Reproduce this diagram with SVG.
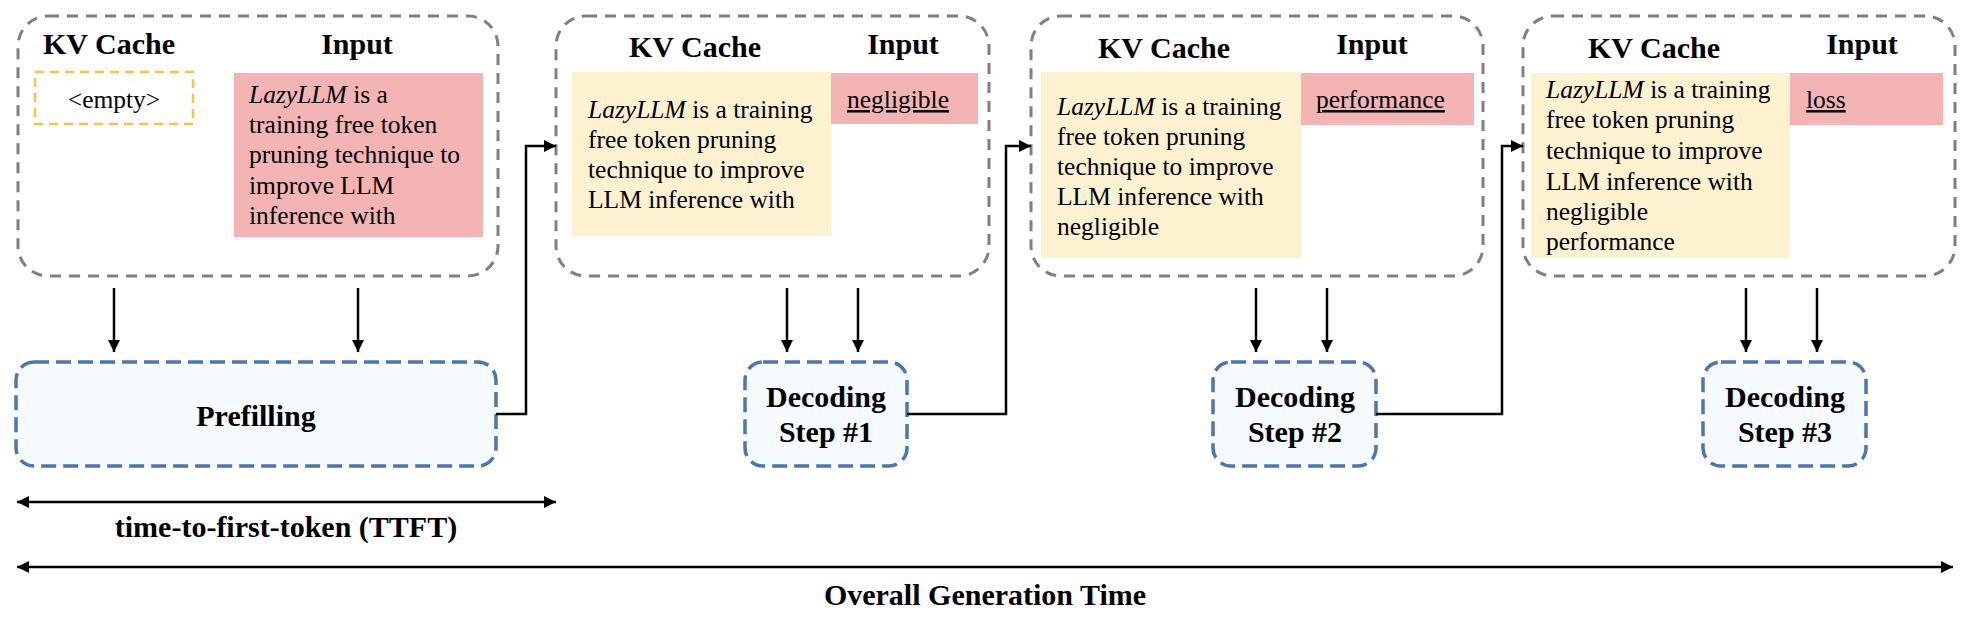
<svg xmlns="http://www.w3.org/2000/svg" width="1970" height="620" viewBox="0 0 1970 620">
<style>
.stage{fill:#ffffff;stroke:#808080;stroke-width:3;stroke-dasharray:11 8}
.proc{fill:#f5fbff;stroke:#4a77b4;stroke-width:3.5;stroke-dasharray:15 7}
.h{font-family:"Liberation Serif","Times New Roman",serif;font-weight:bold;font-size:30px;fill:#000}
.t{font-family:"Liberation Serif","Times New Roman",serif;font-size:25.5px;fill:#000}
.it{font-style:italic}
.u{text-decoration:underline}
.pink{fill:#f4b4b4}
.yel{fill:#fdf2d0}
.ln{fill:none;stroke:#000;stroke-width:2.5}
</style>
<defs>
<marker id="ah" viewBox="0 0 12 12" refX="12" refY="6" markerWidth="12" markerHeight="12" markerUnits="userSpaceOnUse" orient="auto-start-reverse">
<path d="M0,0 L12,6 L0,12 z" fill="#000"/>
</marker>
</defs>
<rect width="1970" height="620" fill="#ffffff"/>

<g id="stage-prefill">
<rect class="stage" x="18" y="16" width="480" height="260" rx="30"/>
<text class="h" x="109" y="54" text-anchor="middle">KV Cache</text>
<text class="h" x="357" y="54" text-anchor="middle">Input</text>
<rect x="35" y="72" width="158" height="52" fill="none" stroke="#f9c440" stroke-width="2.5" stroke-dasharray="9 6"/>
<text class="t" x="114" y="108" text-anchor="middle">&lt;empty&gt;</text>
<rect class="pink" x="234" y="73" width="249" height="164"/>
<text class="t" x="249" y="103"><tspan class="it">LazyLLM</tspan> is a</text>
<text class="t" x="249" y="133">training free token</text>
<text class="t" x="249" y="163">pruning technique to</text>
<text class="t" x="249" y="194">improve LLM</text>
<text class="t" x="249" y="224">inference with</text>
</g>

<g id="stage-dec1">
<rect class="stage" x="556" y="16" width="433" height="260" rx="30"/>
<text class="h" x="695" y="57" text-anchor="middle">KV Cache</text>
<text class="h" x="903" y="54" text-anchor="middle">Input</text>
<rect class="yel" x="572" y="72" width="259" height="164"/>
<rect class="pink" x="831" y="73" width="147" height="51"/>
<text class="t" x="588" y="118"><tspan class="it">LazyLLM</tspan> is a training</text>
<text class="t" x="588" y="148">free token pruning</text>
<text class="t" x="588" y="178">technique to improve</text>
<text class="t" x="588" y="208">LLM inference with</text>
<text class="t u" x="847" y="108">negligible</text>
</g>

<g id="stage-dec2">
<rect class="stage" x="1031" y="16" width="452" height="260" rx="30"/>
<text class="h" x="1164" y="58" text-anchor="middle">KV Cache</text>
<text class="h" x="1372" y="54" text-anchor="middle">Input</text>
<rect class="yel" x="1041" y="72" width="260" height="186"/>
<rect class="pink" x="1301" y="73" width="173" height="52"/>
<text class="t" x="1057" y="115"><tspan class="it">LazyLLM</tspan> is a training</text>
<text class="t" x="1057" y="145">free token pruning</text>
<text class="t" x="1057" y="175">technique to improve</text>
<text class="t" x="1057" y="205">LLM inference with</text>
<text class="t" x="1057" y="235">negligible</text>
<text class="t u" x="1316" y="108">performance</text>
</g>

<g id="stage-dec3">
<rect class="stage" x="1523" y="16" width="432" height="260" rx="30"/>
<text class="h" x="1654" y="58" text-anchor="middle">KV Cache</text>
<text class="h" x="1862" y="54" text-anchor="middle">Input</text>
<rect class="yel" x="1531" y="73" width="259" height="185"/>
<rect class="pink" x="1790" y="73" width="153" height="52"/>
<text class="t" x="1546" y="98"><tspan class="it">LazyLLM</tspan> is a training</text>
<text class="t" x="1546" y="128">free token pruning</text>
<text class="t" x="1546" y="159">technique to improve</text>
<text class="t" x="1546" y="190">LLM inference with</text>
<text class="t" x="1546" y="220">negligible</text>
<text class="t" x="1546" y="250">performance</text>
<text class="t u" x="1806" y="108">loss</text>
</g>

<g id="prefilling">
<rect class="proc" x="16" y="362" width="480" height="104" rx="18"/>
<text class="h" x="256" y="426" text-anchor="middle">Prefilling</text>
</g>
<g id="decoding1">
<rect class="proc" x="745" y="362" width="162" height="104" rx="18"/>
<text class="h" x="826" y="407" text-anchor="middle">Decoding</text>
<text class="h" x="826" y="442" text-anchor="middle">Step #1</text>
</g>
<g id="decoding2">
<rect class="proc" x="1213" y="362" width="163" height="104" rx="18"/>
<text class="h" x="1295" y="407" text-anchor="middle">Decoding</text>
<text class="h" x="1295" y="442" text-anchor="middle">Step #2</text>
</g>
<g id="decoding3">
<rect class="proc" x="1703" y="362" width="163" height="104" rx="18"/>
<text class="h" x="1785" y="407" text-anchor="middle">Decoding</text>
<text class="h" x="1785" y="442" text-anchor="middle">Step #3</text>
</g>

<g id="connectors">
<line class="ln" x1="114" y1="288" x2="114" y2="352" marker-end="url(#ah)"/>
<line class="ln" x1="358" y1="288" x2="358" y2="352" marker-end="url(#ah)"/>
<line class="ln" x1="787" y1="288" x2="787" y2="352" marker-end="url(#ah)"/>
<line class="ln" x1="858" y1="288" x2="858" y2="352" marker-end="url(#ah)"/>
<line class="ln" x1="1256" y1="288" x2="1256" y2="352" marker-end="url(#ah)"/>
<line class="ln" x1="1327" y1="288" x2="1327" y2="352" marker-end="url(#ah)"/>
<line class="ln" x1="1746" y1="288" x2="1746" y2="352" marker-end="url(#ah)"/>
<line class="ln" x1="1817" y1="288" x2="1817" y2="352" marker-end="url(#ah)"/>
<polyline class="ln" points="496,414 526,414 526,146 556,146" marker-end="url(#ah)"/>
<polyline class="ln" points="907,414 1006,414 1006,146 1031,146" marker-end="url(#ah)"/>
<polyline class="ln" points="1376,414 1502,414 1502,146 1523,146" marker-end="url(#ah)"/>
<line class="ln" x1="17" y1="502" x2="556" y2="502" marker-start="url(#ah)" marker-end="url(#ah)"/>
<line class="ln" x1="17" y1="567" x2="1953" y2="567" marker-start="url(#ah)" marker-end="url(#ah)"/>
</g>

<text class="h" x="286" y="537" text-anchor="middle">time-to-first-token (TTFT)</text>
<text class="h" x="985" y="605" text-anchor="middle">Overall Generation Time</text>
</svg>
